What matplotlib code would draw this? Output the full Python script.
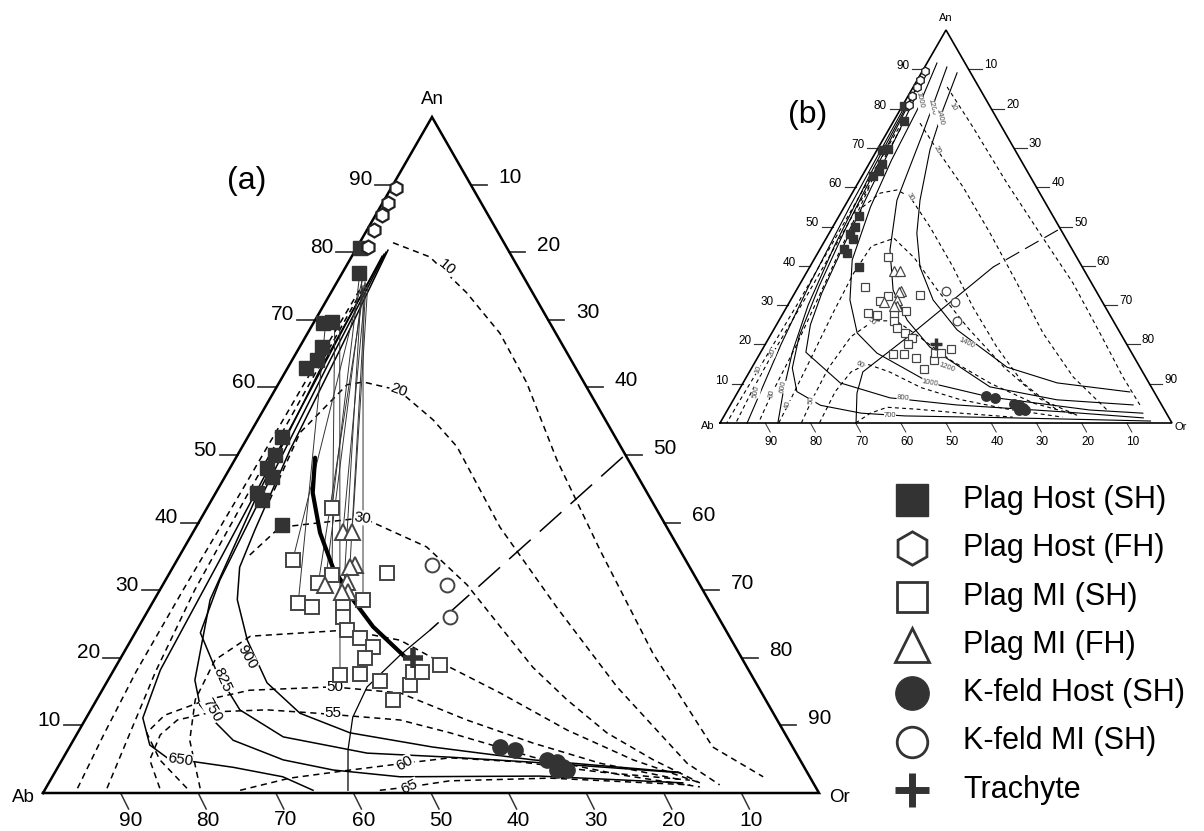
import numpy as np
import matplotlib.pyplot as plt

plt.rcParams['font.family'] = ['Liberation Sans', 'DejaVu Sans']

# ---- sample compositions, mol% (An, Or); Ab = 100 - An - Or ----
plag_host_sh_an = [80.6, 76.9, 69.7, 69.5, 66.0, 64.1, 62.9, 52.7, 50.0, 48.1, 46.7, 44.4, 43.3, 39.6]
plag_host_sh_or = [0.4, 2.2, 2.3, 1.2, 2.9, 3.2, 2.4, 4.4, 4.8, 4.8, 6.1, 5.3, 6.5, 11.0]

plag_host_fh_an = [89.5, 87.3, 85.5, 83.3, 80.8]
plag_host_fh_or = [0.6, 0.7, 0.8, 0.9, 1.4]

plag_mi_sh_an = [42.2, 34.5, 32.5, 28.1, 27.5, 31.1, 32.2, 28.6, 27.8, 26.0, 24.1,
                 22.9, 21.6, 20.0, 17.5, 17.6, 16.6, 13.8, 16.0, 17.9, 17.9, 18.9]
plag_mi_sh_or = [16.1, 14.9, 28.1, 18.8, 20.9, 19.9, 21.1, 26.9, 24.7, 25.6, 27.1,
                 29.4, 31.7, 31.5, 29.5, 32.0, 35.1, 38.2, 39.3, 38.7, 39.9, 41.7]

plag_mi_fh_an = [38.6, 38.6, 33.7, 33.4, 30.8, 31.2, 29.7, 29.7]
plag_mi_fh_or = [19.3, 20.5, 23.3, 22.8, 20.9, 23.5, 24.4, 23.6]

kfeld_host_an = [6.8, 6.4, 4.9, 4.6, 3.8, 3.4, 3.4]
kfeld_host_or = [55.5, 57.6, 62.5, 63.9, 65.1, 65.8, 64.5]

kfeld_mi_an = [33.7, 30.8, 26.0]
kfeld_mi_or = [33.2, 36.6, 39.4]

trachyte_an = [20.0]
trachyte_or = [37.7]

# host -> melt inclusion tie lines
tie_host_an = [76.6, 75.9, 75.6, 75.1, 75.4, 75.1, 74.9, 69.2, 68.5, 68.5, 75.0, 76.0]
tie_host_or = [2.4, 3.1, 3.6, 3.6, 3.8, 4.2, 3.7, 2.9, 2.0, 3.9, 4.0, 3.0]
tie_mi_an = [42.2, 34.5, 31.1, 30.8, 38.6, 38.6, 28.6, 32.2, 28.1, 17.5, 33.4, 27.8]
tie_mi_or = [16.1, 14.9, 19.9, 20.9, 19.3, 20.5, 26.9, 21.1, 18.8, 29.5, 22.8, 24.7]

trend = [(49.6, 10.2), (44.4, 12.5), (38.5, 16.4), (33.4, 20.6), (28.6, 25.6), (24.6, 30.2), (20.1, 36.6)]

# ---- (a) isotherms (solid) and dashed contours ----
a_iso = {
    '900': [(80.3, 4.2), (65.5, 5.4), (50.7, 6.4), (38.9, 7.8), (33.4, 8.6), (28.6, 10.7), (22.6, 15.0),
            (16.3, 20.7), (11.8, 27.2), (8.9, 35.1), (6.8, 46.8), (4.9, 60.7), (3.1, 80.1)],
    '825': [(80.0, 4.1), (64.1, 4.9), (46.3, 6.0), (31.5, 7.0), (23.7, 8.4), (17.8, 13.5), (12.3, 19.2),
            (8.3, 26.8), (5.9, 38.8), (5.3, 49.8), (4.4, 63.1), (3.0, 80.6)],
    '750': [(79.7, 4.0), (62.6, 4.3), (43.3, 5.6), (28.6, 7.2), (16.7, 11.2), (13.0, 13.7), (10.8, 16.5),
            (7.8, 20.6), (4.9, 28.5), (3.4, 35.7), (2.4, 44.8), (2.5, 62.8), (1.5, 81.7)],
    '650': [(79.4, 3.9), (56.7, 4.7), (34.5, 5.5), (18.2, 6.0), (11.1, 7.3), (7.1, 10.2), (5.2, 13.4),
            (3.8, 22.6), (2.4, 29.7), (0.4, 34.6)],
}
a_dash = {
    '10': [(81.4, 4.3), (79.3, 10.1), (74.0, 17.5), (68.0, 24.8), (60.7, 31.9), (49.3, 41.5),
           (35.9, 53.8), (20.7, 68.2), (6.8, 82.9), (2.4, 91.6)],
    '20': [(43.3, 7.5), (53.3, 6.4), (60.4, 8.9), (60.8, 10.8), (59.6, 15.9), (55.2, 22.6), (51.2, 27.7),
           (39.3, 39.2), (27.5, 52.4), (15.7, 66.1), (4.4, 80.8), (1.2, 86.6)],
    '30': [(35.2, 9.0), (39.3, 10.8), (40.7, 20.8), (36.4, 31.2), (30.8, 39.2), (24.6, 46.6), (18.6, 53.8),
           (13.8, 60.6), (8.9, 68.2), (4.9, 76.2), (1.5, 83.9)],
    '45': [(0.7, 19.9), (7.8, 15.0), (13.8, 12.7), (19.7, 12.3), (23.2, 15.1), (24.1, 27.1), (22.6, 34.7),
           (18.6, 43.1), (14.8, 51.5), (9.3, 62.9), (4.9, 73.6), (1.5, 83.9)],
    '50': [(0.7, 18.2), (4.9, 12.6), (8.9, 8.9), (11.5, 9.9), (13.8, 14.2), (15.2, 19.0), (15.7, 29.5),
           (14.8, 38.6), (10.8, 49.2), (7.4, 59.4), (4.4, 69.6), (1.9, 81.5)],
    '55': [(0.7, 14.7), (4.9, 11.3), (8.6, 10.8), (10.8, 11.9), (12.0, 15.9), (12.3, 22.7), (11.8, 29.4),
           (10.8, 40.6), (8.9, 48.0), (5.3, 60.5), (2.7, 73.0), (0.9, 84.2)],
    '60': [(0.4, 25.2), (2.2, 30.7), (3.4, 37.9), (4.4, 44.4), (5.2, 49.8), (4.6, 59.2), (3.1, 70.2), (1.9, 82.4)],
    '65': [(0.4, 43.2), (0.9, 46.8), (1.8, 51.5), (2.2, 64.2), (1.2, 82.8)],
    'l1': [(0.7, 4.1), (8.6, 3.5), (18.0, 3.0), (30.0, 3.0), (45.0, 3.2), (60.0, 3.3), (75.0, 3.5)],
    'l2': [(0.7, 7.9), (8.6, 6.8), (18.0, 5.5), (30.0, 4.5), (45.0, 4.2), (60.0, 4.0), (75.0, 3.8)],
}
a_crest_dash = [(49.7, 49.8), (24.1, 37.8)]
a_crest = [(24.1, 37.8), (20.4, 35.8), (15.7, 33.9), (11.2, 34.3), (6.4, 36.1), (0.4, 39.1)]

# ---- (b) isotherms and dashed contours ----
b_iso = {
    '1400': [(89.1, 7.9), (79.6, 9.5), (69.5, 11.7), (56.7, 15.9), (48.3, 19.4), (39.7, 24.4), (31.3, 31.5),
             (23.7, 40.6), (14.2, 56.4), (10.2, 69.5), (7.9, 86.7)],
    '1200': [(90.6, 4.9), (73.8, 8.0), (56.7, 10.8), (44.0, 15.6), (33.8, 21.4), (26.2, 28.3), (19.3, 36.8),
             (9.2, 55.1), (5.9, 71.6), (4.6, 89.1)],
    '1000': [(91.6, 2.2), (79.6, 3.8), (66.9, 4.5), (55.0, 5.8), (41.5, 8.5), (31.3, 13.1), (22.9, 18.9),
             (17.8, 25.8), (10.2, 41.4), (6.6, 56.4), (3.3, 80.2), (2.5, 92.3)],
    '800': [(90.0, 1.2), (74.0, 2.5), (60.0, 3.5), (45.0, 4.8), (33.0, 6.0), (25.0, 7.5), (18.0, 10.0),
            (10.2, 21.5), (6.4, 34.4), (4.6, 50.0), (2.8, 75.0), (1.3, 93.0)],
    '700': [(88.0, 0.8), (70.0, 1.8), (50.0, 3.0), (35.0, 4.5), (22.0, 6.5), (14.0, 9.0), (8.0, 13.0),
            (4.5, 20.0), (2.5, 30.0), (1.8, 40.0), (1.4, 60.0), (0.9, 80.0), (0.5, 95.0)],
    '600': [(85.0, 0.8), (65.0, 1.5), (45.0, 2.8), (30.0, 4.5), (18.0, 7.0), (8.0, 10.0), (0.0, 12.8)],
    '500': [(80.0, 0.6), (55.0, 1.2), (35.0, 2.2), (20.0, 3.5), (8.0, 5.0), (0.0, 6.0)],
}
b_dash = {
    '10': [(85.5, 7.5), (75.3, 18.3), (61.1, 32.9), (48.3, 46.6), (35.6, 60.3), (22.9, 72.6), (11.7, 83.3), (4.6, 90.6)],
    '20': [(76.3, 6.1), (69.5, 13.3), (60.1, 23.7), (48.3, 35.6), (35.6, 47.9), (22.9, 60.0), (11.7, 72.3), (3.3, 84.0)],
    '30': [(48.3, 4.6), (55.0, 4.1), (58.5, 6.2), (59.3, 9.5), (57.5, 13.3), (49.9, 21.5), (39.7, 31.7),
           (29.5, 41.2), (19.3, 51.6), (10.2, 61.9), (3.3, 72.9)],
    '40': [(0.0, 13.0), (5.0, 12.7), (15.0, 12.0), (28.0, 11.0), (38.0, 10.5), (45.0, 11.0), (47.0, 15.0),
           (42.0, 22.0), (34.0, 31.0), (24.0, 43.0), (14.0, 56.0), (6.0, 68.0), (2.0, 78.0)],
    '50': [(0.0, 18.0), (5.9, 17.4), (14.0, 17.0), (22.0, 18.0), (26.0, 21.0), (26.0, 26.0), (22.0, 33.0),
           (16.0, 43.0), (10.0, 55.0), (5.0, 67.0), (2.0, 78.0)],
    '60': [(0.0, 22.0), (8.0, 21.5), (13.0, 22.5), (15.0, 25.0), (13.0, 31.0), (9.0, 40.0), (6.0, 50.0),
           (3.5, 62.0), (1.5, 75.0)],
    '70': [(0.0, 30.0), (2.5, 32.0), (4.0, 35.0), (3.5, 42.0), (2.5, 52.0), (1.5, 64.0)],
    'l10': [(75.0, 2.0), (50.0, 2.0), (30.0, 2.0), (13.5, 1.7), (5.0, 1.5), (0.0, 1.5)],
    'l20': [(75.0, 2.5), (50.0, 3.0), (30.0, 3.0), (17.8, 2.8), (8.0, 3.0), (0.0, 3.5)],
    'l30': [(60.0, 3.0), (40.0, 5.0), (20.0, 7.0), (7.6, 7.7), (0.0, 8.5)],
}
b_crest_dash = [(49.1, 50.2), (39.7, 40.6)]
b_crest = [(39.7, 40.6), (22.9, 31.2), (13.0, 25.1), (7.6, 26.5), (0.0, 30.1)]

legend_labels = ['Plag Host (SH)', 'Plag Host (FH)', 'Plag MI (SH)', 'Plag MI (FH)',
                 'K-feld Host (SH)', 'K-feld MI (SH)', 'Trachyte']

# triangle corners (Ab, Or, An) in figure pixels
MAIN = ((43, 793), (819, 793), (432, 117))
INSET = ((720, 423), (1172, 423), (946, 30))


def tern(tri, an, orr):
    an = np.asarray(an, float) / 100.0
    orr = np.asarray(orr, float) / 100.0
    ab = 1.0 - an - orr
    (xa, ya), (xo, yo), (xn, yn) = tri
    return ab * xa + orr * xo + an * xn, ab * ya + orr * yo + an * yn


def curve(ax, tri, pts, **kw):
    an, orr = zip(*pts)
    x, y = tern(tri, an, orr)
    ax.plot(x, y, **kw)


def frame(ax, tri, lw, tick, fs, offs):
    (xa, ya), (xo, yo), (xn, yn) = tri
    ax.plot([xa, xo, xn, xa], [ya, yo, yn, ya], color='black', lw=lw, solid_joinstyle='miter', zorder=5)
    for v in range(10, 100, 10):
        x, y = tern(tri, v, 0)
        ax.plot([x, x - tick[0]], [y, y], color='#333', lw=lw * 0.7)
        ax.text(x - tick[0] - offs[0], y + offs[1], str(v), ha='right', va='center', fontsize=fs)
        x, y = tern(tri, 100 - v, v)
        ax.plot([x, x + tick[1]], [y, y], color='#333', lw=lw * 0.7)
        ax.text(x + tick[1] + offs[2], y + offs[3], str(v), ha='left', va='center', fontsize=fs)
        x, y = tern(tri, 0, 100 - v)
        ax.plot([x, x + tick[2][0]], [y, y + tick[2][1]], color='#333', lw=lw * 0.6)
        ax.text(x + offs[4], y + offs[5], str(v), ha='center', va='center', fontsize=fs)


def samples(ax, tri, s):
    mk = dict(ls='none', zorder=6)
    x, y = tern(tri, plag_host_sh_an, plag_host_sh_or)
    ax.plot(x, y, marker='s', ms=10 * s, mfc='#333', mec='#333', **mk)
    x, y = tern(tri, plag_host_fh_an, plag_host_fh_or)
    ax.plot(x, y, marker='h', ms=10 * s, mfc='white', mec='#222', mew=1.6 * s, **mk)
    x, y = tern(tri, plag_mi_sh_an, plag_mi_sh_or)
    ax.plot(x, y, marker='s', ms=9.5 * s, mfc='white', mec='#444', mew=1.4 * s, **mk)
    x, y = tern(tri, plag_mi_fh_an, plag_mi_fh_or)
    ax.plot(x, y, marker='^', ms=11 * s, mfc='white', mec='#444', mew=1.4 * s, **mk)
    x, y = tern(tri, kfeld_host_an, kfeld_host_or)
    ax.plot(x, y, marker='o', ms=11 * s, mfc='#333', mec='#333', **mk)
    x, y = tern(tri, kfeld_mi_an, kfeld_mi_or)
    ax.plot(x, y, marker='o', ms=10 * s, mfc='white', mec='#444', mew=1.4 * s, **mk)
    x, y = tern(tri, trachyte_an, trachyte_or)
    ax.plot(x, y, marker='+', ms=15 * s, mec='#333', mew=4 * s, **mk)


fig = plt.figure(figsize=(12.04, 8.31), dpi=100)
ax = fig.add_axes([0, 0, 1, 1])
ax.set_xlim(0, 1204)
ax.set_ylim(831, 0)
ax.axis('off')

# ---------------- (a) main diagram ----------------
for pts in a_iso.values():
    curve(ax, MAIN, pts, color='black', lw=1.1)
for pts in a_dash.values():
    curve(ax, MAIN, pts, color='black', lw=1.1, dashes=(4, 3))
curve(ax, MAIN, a_crest_dash, color='black', lw=1.1, dashes=(19, 8))
curve(ax, MAIN, a_crest, color='black', lw=0.9)
for i in range(len(tie_host_an)):
    x, y = tern(MAIN, [tie_host_an[i], tie_mi_an[i]], [tie_host_or[i], tie_mi_or[i]])
    ax.plot(x, y, color='#333', lw=0.7)
curve(ax, MAIN, trend, color='black', lw=3.0, solid_capstyle='round')

box = dict(fc='white', ec='none', pad=0.3)
a_labels = [('10', 77.8, 13.1, -40), ('20', 59.6, 15.9, -20), ('30', 40.7, 20.8, -8),
            ('50', 15.7, 29.8, 0), ('55', 11.8, 31.5, 0), ('60', 4.4, 44.4, 30), ('65', 0.9, 46.8, 25),
            ('900', 20.1, 16.2, -60), ('825', 16.7, 14.8, -65), ('750', 12.3, 15.6, -60), ('650', 4.9, 15.2, -8)]
for txt, an, orr, rot in a_labels:
    x, y = tern(MAIN, an, orr)
    ax.text(x, y, txt, fontsize=11, rotation=rot, ha='center', va='center', bbox=box, zorder=4)

samples(ax, MAIN, 1.0)
frame(ax, MAIN, 1.8, (18, 16, (8, 16)), 15, (3, -5, 12, -7, 10, 27))
ax.text(432, 100, 'An', fontsize=13.5, ha='center', va='center')
ax.text(23, 797, 'Ab', fontsize=13.5, ha='center', va='center')
ax.text(840, 797, 'Or', fontsize=13.5, ha='center', va='center')
ax.text(247, 181, '(a)', fontsize=23, ha='center', va='center')

# ---------------- (b) inset ----------------
for pts in b_iso.values():
    curve(ax, INSET, pts, color='black', lw=0.8)
for pts in b_dash.values():
    curve(ax, INSET, pts, color='black', lw=0.8, dashes=(3.5, 3))
curve(ax, INSET, b_crest_dash, color='black', lw=0.8, dashes=(14, 6))
curve(ax, INSET, b_crest, color='black', lw=0.8)

small = dict(fc='white', ec='none', pad=0.1)
b_labels = [('10', 80.4, 11.3, -60), ('20', 69.5, 13.3, -60), ('30', 57.5, 13.3, -60),
            ('1000', 82.2, 3.1, -78), ('1200', 80.4, 6.7, -78), ('1400', 77.9, 9.7, -78),
            ('1400', 20.4, 44.4, -25), ('1200', 14.2, 43.1, -20), ('1000', 10.2, 41.4, -10),
            ('800', 6.4, 37.3, -5), ('700', 1.8, 36.7, 0), ('60', 14.8, 23.6, -30), ('50', 25.7, 20.8, -40),
            ('10', 13.5, 1.7, 70), ('20', 17.8, 2.8, 70), ('500', 7.9, 4.2, 80), ('30', 7.6, 7.7, 80),
            ('600', 9.2, 9.3, 80), ('40', 4.6, 12.7, 80), ('50', 5.9, 17.4, 85)]
for txt, an, orr, rot in b_labels:
    x, y = tern(INSET, an, orr)
    ax.text(x, y, txt, fontsize=5.5, color='#444', rotation=rot, ha='center', va='center', bbox=small, zorder=4)

samples(ax, INSET, 0.62)
frame(ax, INSET, 1.2, (11, 13, (5, 9)), 8.5, (3, -3, 2, -4, 6, 19))
ax.text(946, 18, 'An', fontsize=8, ha='center', va='center')
ax.text(708, 426, 'Ab', fontsize=8, ha='center', va='center')
ax.text(1181, 427, 'Or', fontsize=8, ha='center', va='center')
ax.text(808, 115, '(b)', fontsize=23, ha='center', va='center')

# ---------------- legend ----------------
leg_style = [dict(marker='s', ms=23, mfc='#333', mec='#333'),
             dict(marker='h', ms=24, mfc='white', mec='#333', mew=2),
             dict(marker='s', ms=21, mfc='white', mec='#333', mew=2),
             dict(marker='^', ms=24, mfc='white', mec='#333', mew=2),
             dict(marker='o', ms=24, mfc='#333', mec='#333'),
             dict(marker='o', ms=22, mfc='white', mec='#333', mew=2),
             dict(marker='+', ms=24, mec='#333', mew=5)]
for i, (lab, st) in enumerate(zip(legend_labels, leg_style)):
    y = 500 + i * 48.3
    ax.plot([912], [y], ls='none', **st)
    ax.text(963, y, lab, fontsize=22, ha='left', va='center')

fig.savefig('out.png', dpi=100)
